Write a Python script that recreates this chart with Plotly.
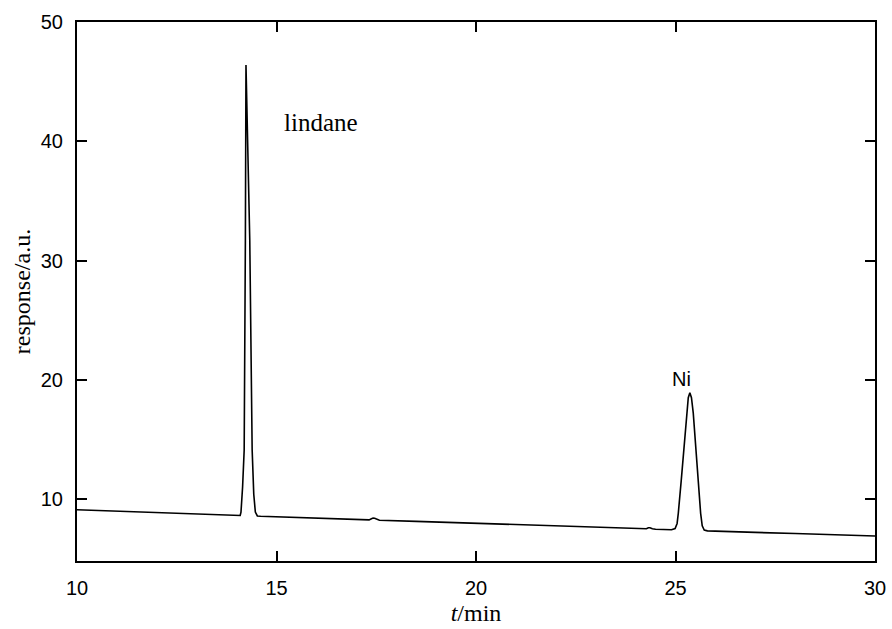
import plotly.graph_objects as go

# retention time (min) and detector response (a.u.)
time_min = [
    10.0, 12.0, 13.5, 14.05, 14.09, 14.11, 14.15, 14.19, 14.21, 14.22, 14.235,
    14.27, 14.33, 14.39, 14.43, 14.47, 14.52, 14.6, 15.6, 16.8, 17.32, 17.38,
    17.42, 17.46, 17.52, 17.58, 18.5, 20.0, 21.5, 23.1, 24.2, 24.27, 24.32,
    24.36, 24.42, 24.5, 24.9, 24.99, 25.04, 25.07, 25.145, 25.21, 25.28, 25.32,
    25.36, 25.40, 25.445, 25.505, 25.57, 25.63, 25.67, 25.72, 25.8, 26.0,
    27.0, 28.0, 29.0, 30.0,
]
response = [
    9.1, 8.85, 8.67, 8.6, 8.62, 8.9, 11.0, 14.1, 22.0, 31.7, 46.4,
    40.5, 31.7, 14.1, 10.4, 8.9, 8.58, 8.55, 8.44, 8.31, 8.25, 8.35,
    8.4, 8.38, 8.28, 8.22, 8.12, 7.96, 7.79, 7.61, 7.49, 7.51, 7.59,
    7.59, 7.5, 7.46, 7.42, 7.52, 7.95, 8.8, 11.6, 14.4, 17.2, 18.5,
    18.9, 18.5, 17.2, 14.4, 11.6, 8.8, 7.75, 7.4, 7.33, 7.3,
    7.2, 7.1, 7.0, 6.9,
]

x_ticks = [10, 15, 20, 25, 30]
y_ticks = [10, 20, 30, 40, 50]

peak_labels = ["lindane", "Ni"]
peak_label_x = [15.15, 25.14]
peak_label_y = [41.6, 20.1]

fig = go.Figure()
fig.add_trace(go.Scatter(
    x=time_min, y=response, mode="lines",
    line=dict(color="black", width=1.6),
    showlegend=False, hoverinfo="skip",
))

fig.add_annotation(
    x=peak_label_x[0], y=peak_label_y[0], text=peak_labels[0],
    showarrow=False, xanchor="left", yanchor="middle",
    font=dict(family="Liberation Serif", size=25, color="black"),
)
fig.add_annotation(
    x=peak_label_x[1], y=peak_label_y[1], text=peak_labels[1],
    showarrow=False, xanchor="center", yanchor="middle",
    font=dict(family="Liberation Sans", size=20, color="black"),
)

axis_common = dict(
    showline=True, linecolor="black", linewidth=2, mirror="allticks",
    ticks="inside", ticklen=10, tickwidth=1.8, tickcolor="black",
    showgrid=False, zeroline=False, automargin=False,
    tickfont=dict(family="Liberation Sans", size=20, color="black"),
    ticklabelstandoff=8,
)

fig.update_xaxes(
    range=[10, 30], tickvals=x_ticks, ticktext=[str(v) for v in x_ticks],
    title=dict(text="<i>t</i>/min", standoff=6,
               font=dict(family="Liberation Serif", size=24, color="black")),
    **axis_common,
)
fig.update_yaxes(
    range=[4.8, 50], tickvals=y_ticks, ticktext=[str(v) for v in y_ticks],
    title=dict(text="response/a.u.", standoff=3,
               font=dict(family="Liberation Serif", size=24, color="black")),
    **axis_common,
)

fig.update_layout(
    width=892, height=629,
    margin=dict(l=77, r=17, t=22, b=68),
    paper_bgcolor="white", plot_bgcolor="white",
)

fig.write_html("out.html")
